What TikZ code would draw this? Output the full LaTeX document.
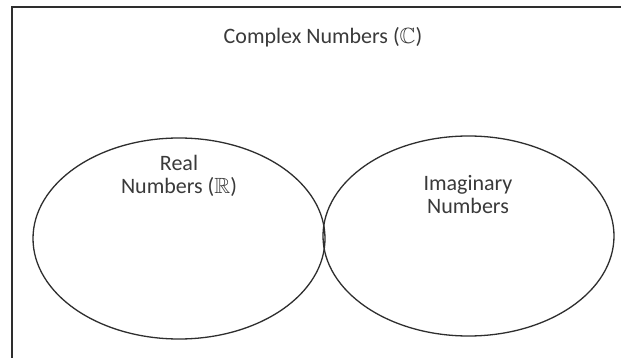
\documentclass[tikz,border=0pt]{standalone}
\usepackage{fontspec}
\usepackage{amssymb}
\setmainfont{Carlito}
\usetikzlibrary{shapes.geometric}
\definecolor{linecol}{HTML}{2E2E2E}
\definecolor{textcol}{HTML}{3A3A3A}
\tikzset{
  setbox/.style={ellipse, draw=linecol, line width=1.3pt, inner sep=0pt},
  lbl/.style={text=textcol, font=\fontsize{22}{23}\selectfont, align=center, inner sep=0pt},
  frame/.style={draw=linecol, line width=2pt}
}
\begin{document}
\begin{tikzpicture}[x=1pt,y=-1pt]
\useasboundingbox (0,0) rectangle (621,358);
\fill[white] (0,0) rectangle (621,358);
\coordinate (fbl) at (12,360);
\coordinate (ftl) at (12,7);
\coordinate (ftr) at (623,7);
\draw[frame] (fbl) -- (ftl) -- (ftr);
\node[lbl, anchor=base] (title) at (323,44) {Complex Numbers ($\mathbb{C}$)};
\node[setbox, minimum width=292pt, minimum height=201pt] (real) at (179,238.5) {};
\node[setbox, minimum width=291pt, minimum height=200pt] (imag) at (468.5,236) {};
\node[lbl] (reallbl) at (179,175.5) {Real\\Numbers ($\mathbb{R}$)};
\node[lbl] (imaglbl) at (468,194.5) {Imaginary\\Numbers};
\end{tikzpicture}
\end{document}
